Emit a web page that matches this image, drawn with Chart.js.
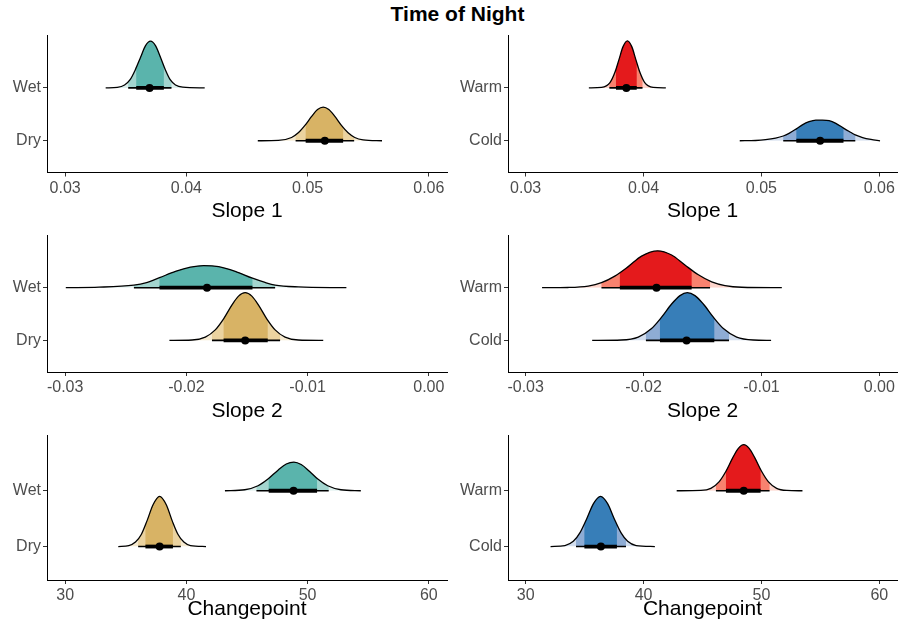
<!DOCTYPE html>
<html>
<head>
<meta charset="utf-8">
<script src="https://cdn.jsdelivr.net/npm/chart.js@4.4.1/dist/chart.umd.min.js"></script>
<style>
  body { margin: 0; background: #fff; width: 909px; height: 625px; position: relative; overflow: hidden;
         font-family: "Liberation Sans", Arial, sans-serif; }
  #title { position: absolute; left: 3px; width: 909px; top: 2px; text-align: center;
           font-weight: bold; font-size: 21px; line-height: 24px; color: #000; }
  canvas { position: absolute; }
</style>
</head>
<body>
<div id="title">Time of Night</div>
<canvas id="c1"></canvas>
<canvas id="c2"></canvas>
<canvas id="c3"></canvas>
<canvas id="c4"></canvas>
<canvas id="c5"></canvas>
<canvas id="c6"></canvas>
<script>
// ---------------- data ----------------
// categories
var seasonCats = ['Dry', 'Wet'];
var tempCats = ['Cold', 'Warm'];

// x axis ticks
var slope1Ticks = [0.03, 0.04, 0.05, 0.06];
var slope1Labels = ['0.03', '0.04', '0.05', '0.06'];
var slope2Ticks = [-0.03, -0.02, -0.01, 0];
var slope2Labels = ['-0.03', '-0.02', '-0.01', '0.00'];
var cpTicks = [30, 40, 50, 60];
var cpLabels = ['30', '40', '50', '60'];

// density curves: x positions and slab heights; intervals = [lo95, lo80, median, hi80, hi95]
var s1WetX = [0.03334, 0.0343, 0.0349, 0.03534, 0.03578, 0.03622, 0.03663, 0.03704, 0.03745, 0.03786, 0.03827, 0.03868, 0.0391, 0.0397, 0.04151];
var s1WetH = [0, 0.01, 0.054, 0.15, 0.34, 0.58, 0.80, 0.883, 0.80, 0.58, 0.34, 0.15, 0.054, 0.013, 0];
var s1WetInt = [0.0352, 0.03586, 0.03696, 0.03814, 0.03877];
var s1DryX = [0.04589, 0.04759, 0.04868, 0.04923, 0.04978, 0.05033, 0.05082, 0.05129, 0.05175, 0.05225, 0.05279, 0.05334, 0.05389, 0.05458, 0.05614];
var s1DryH = [0, 0.006, 0.062, 0.15, 0.29, 0.46, 0.59, 0.636, 0.59, 0.46, 0.29, 0.15, 0.062, 0.017, 0];
var s1DryInt = [0.04901, 0.04984, 0.05142, 0.05293, 0.05384];

var s1WarmX = [0.03536, 0.03644, 0.03715, 0.03758, 0.03792, 0.03826, 0.03863, 0.039, 0.03934, 0.03968, 0.0401, 0.04081, 0.04189];
var s1WarmH = [0, 0.01, 0.10, 0.30, 0.54, 0.78, 0.89, 0.78, 0.54, 0.30, 0.10, 0.01, 0];
var s1WarmInt = [0.0371, 0.03766, 0.03854, 0.03942, 0.03991];
var s1ColdX = [0.04816, 0.0495, 0.05035, 0.0512, 0.05185, 0.05234, 0.05296, 0.05347, 0.05404, 0.05461, 0.05518, 0.05574, 0.05631, 0.05696, 0.05745, 0.05796, 0.05858, 0.05929, 0.06006];
var s1ColdH = [0, 0.005, 0.02, 0.05, 0.09, 0.14, 0.225, 0.30, 0.36, 0.39, 0.39, 0.38, 0.33, 0.24, 0.175, 0.11, 0.06, 0.025, 0];
var s1ColdInt = [0.05185, 0.05296, 0.05498, 0.05696, 0.05796];

var s2WetX = [-0.02995, -0.02721, -0.02433, -0.02337, -0.02222, -0.0209, -0.01967, -0.01858, -0.01734, -0.01597, -0.01455, -0.01351, -0.01268, -0.01077, -0.0068];
var s2WetH = [0, 0.01, 0.05, 0.09, 0.19, 0.31, 0.39, 0.42, 0.40, 0.31, 0.18, 0.10, 0.05, 0.015, 0];
var s2WetInt = [-0.02433, -0.02222, -0.0183, -0.01455, -0.01268];
var s2DryX = [-0.0214, -0.01953, -0.01844, -0.01762, -0.01693, -0.01625, -0.0157, -0.01515, -0.0146, -0.01405, -0.01337, -0.01268, -0.01186, -0.01077, -0.00871];
var s2DryH = [0, 0.007, 0.063, 0.2, 0.41, 0.67, 0.84, 0.905, 0.84, 0.67, 0.41, 0.2, 0.063, 0.007, 0];
var s2DryInt = [-0.01789, -0.01693, -0.01515, -0.01329, -0.01227];

var s2WarmX = [-0.02861, -0.0264, -0.0247, -0.02357, -0.02244, -0.0213, -0.02017, -0.01881, -0.01762, -0.01649, -0.01535, -0.01422, -0.01309, -0.01167, -0.00827];
var s2WarmH = [0, 0.004, 0.03, 0.095, 0.22, 0.40, 0.60, 0.70, 0.62, 0.43, 0.245, 0.11, 0.04, 0.008, 0];
var s2WarmInt = [-0.02357, -0.02201, -0.0189, -0.01592, -0.01436];
var s2ColdX = [-0.02436, -0.02187, -0.02045, -0.01932, -0.01847, -0.01762, -0.01691, -0.01629, -0.01564, -0.01493, -0.01408, -0.01323, -0.0121, -0.01068, -0.00918];
var s2ColdH = [0, 0.007, 0.063, 0.225, 0.44, 0.69, 0.85, 0.905, 0.85, 0.69, 0.44, 0.225, 0.063, 0.007, 0];
var s2ColdInt = [-0.0198, -0.01861, -0.01635, -0.014, -0.01275];

var cpWetX = [43.18, 44.82, 45.91, 46.73, 47.56, 48.24, 48.87, 49.47, 50.15, 50.84, 51.66, 52.75, 54.39];
var cpWetH = [0, 0.018, 0.09, 0.21, 0.37, 0.48, 0.515, 0.47, 0.35, 0.21, 0.09, 0.018, 0];
var cpWetInt = [45.78, 46.79, 48.84, 50.78, 51.74];
var cpDryX = [34.38, 35.25, 35.80, 36.29, 36.75, 37.25, 37.79, 38.34, 38.83, 39.30, 39.79, 40.34, 41.62];
var cpDryH = [0, 0.017, 0.08, 0.22, 0.46, 0.75, 0.9, 0.75, 0.46, 0.22, 0.08, 0.017, 0];
var cpDryInt = [36.02, 36.62, 37.79, 38.89, 39.54];

var cpWarmX = [42.81, 44.86, 45.71, 46.42, 46.99, 47.56, 48.04, 48.50, 48.96, 49.44, 50.01, 50.58, 51.29, 52.15, 53.48];
var cpWarmH = [0, 0.006, 0.044, 0.165, 0.35, 0.59, 0.76, 0.826, 0.76, 0.59, 0.35, 0.165, 0.044, 0.006, 0];
var cpWarmInt = [46.14, 46.99, 48.50, 49.93, 50.69];
var cpColdX = [32.11, 33.33, 34.04, 34.61, 35.18, 35.75, 36.35, 36.95, 37.51, 38.08, 38.65, 39.37, 40.96];
var cpColdH = [0, 0.018, 0.093, 0.25, 0.50, 0.77, 0.9, 0.77, 0.50, 0.25, 0.093, 0.018, 0];
var cpColdInt = [34.27, 34.98, 36.38, 37.74, 38.51];

// fill colours: [outside 95%, 95%, 80%]
var wetCols = ['#ddefed', '#a3d5cf', '#5ab4ac'];
var dryCols = ['#f6ead0', '#ebd3a0', '#d8b365'];
var warmCols = ['#fdd5cc', '#f8826f', '#e41a1c'];
var coldCols = ['#d3deee', '#8eacd4', '#377eb8'];

// ---------------- shading of the slabs by interval ----------------
var shadePlugin = {
    id: 'shade',
    beforeDatasetsDraw: function (chart) {
        var ctx = chart.ctx, area = chart.chartArea;
        var xs = chart.scales.x, ys = chart.scales.y;
        chart.data.datasets.forEach(function (ds, i) {
            if (!ds.shade) return;
            var line = chart.getDatasetMeta(i).dataset;
            line.updateControlPoints(area, 'x');
            var pts = line.points;
            var yb = ys.getPixelForValue(ds.shade.base);
            var it = ds.shade.interval;
            var bands = [
                [pts[0].x, pts[pts.length - 1].x, ds.shade.colors[0]],
                [xs.getPixelForValue(it[0]), xs.getPixelForValue(it[4]), ds.shade.colors[1]],
                [xs.getPixelForValue(it[1]), xs.getPixelForValue(it[3]), ds.shade.colors[2]]
            ];
            bands.forEach(function (b) {
                ctx.save();
                ctx.beginPath();
                ctx.rect(b[0], area.top, b[1] - b[0], yb - area.top);
                ctx.clip();
                ctx.beginPath();
                line.path(ctx);
                ctx.lineTo(pts[pts.length - 1].x, yb);
                ctx.lineTo(pts[0].x, yb);
                ctx.closePath();
                ctx.fillStyle = b[2];
                ctx.fill();
                ctx.restore();
            });
        });
    }
};

// ---------------- layout ----------------
var cols = [
    { left: 0, width: 455, yW: 47, padR: 8 },
    { left: 455, width: 454, yW: 53, padR: 12 }
];
var rows = [
    { top: 30, height: 194, padT: 5, xH: 51.5 },
    { top: 228, height: 196, padT: 7, xH: 52 },
    { top: 428, height: 194, padT: 7, xH: 42 }
];

function makePanel(id, row, col, cats, curves, xmin, xmax, ticks, labels, title) {
    var cv = document.getElementById(id);
    cv.width = col.width; cv.height = row.height;
    cv.style.left = col.left + 'px'; cv.style.top = row.top + 'px';

    var datasets = [];
    curves.forEach(function (c) {
        datasets.push({
            data: c.x.map(function (x, k) { return { x: x, y: c.base + c.h[k] }; }),
            borderColor: '#000', borderWidth: 1.3, pointRadius: 0, fill: false,
            cubicInterpolationMode: 'monotone', order: 3,
            shade: { base: c.base, interval: c.int, colors: c.colors }
        });
        datasets.push({
            data: [{ x: c.int[0], y: c.base }, { x: c.int[4], y: c.base }],
            borderColor: '#000', borderWidth: 1.6, pointRadius: 0, fill: false, order: 2
        });
        datasets.push({
            data: [{ x: c.int[1], y: c.base }, { x: c.int[3], y: c.base }],
            borderColor: '#000', borderWidth: 3.8, pointRadius: 0, fill: false, order: 1
        });
        datasets.push({
            data: [{ x: c.int[2], y: c.base }],
            showLine: false, pointRadius: 4, pointBackgroundColor: '#000', pointBorderWidth: 0, order: 0
        });
    });

    var tickFont = { family: '"Liberation Sans", Arial, sans-serif', size: 16 };
    return new Chart(cv, {
        type: 'line',
        data: { datasets: datasets },
        options: {
            responsive: false,
            animation: false,
            layout: { padding: { left: 0, right: col.padR, top: row.padT, bottom: 0 } },
            plugins: { legend: { display: false }, tooltip: { enabled: false } },
            scales: {
                x: {
                    type: 'linear', min: xmin, max: xmax,
                    afterBuildTicks: function (s) { s.ticks = ticks.map(function (v) { return { value: v }; }); },
                    afterFit: function (s) {
                        s.height = row.xH;
                        s.paddingLeft = 0; s.paddingRight = 0;
                    },
                    ticks: {
                        autoSkip: false, maxRotation: 0, padding: 2, color: '#4d4d4d', font: tickFont,
                        callback: function (v, i) { return labels[i]; }
                    },
                    grid: { drawOnChartArea: false, drawTicks: true, tickLength: 4, tickColor: '#333', tickWidth: 1 },
                    border: { display: true, color: '#000', width: 1 },
                    title: {
                        display: true, text: title, color: '#000', padding: 0,
                        font: { family: '"Liberation Sans", Arial, sans-serif', size: 21 }
                    }
                },
                y: {
                    type: 'linear', min: 0.4, max: 3.0,
                    afterBuildTicks: function (s) { s.ticks = [{ value: 1 }, { value: 2 }]; },
                    afterFit: function (s) {
                        s.width = col.yW;
                        s.paddingTop = 0; s.paddingBottom = 0;
                    },
                    ticks: {
                        padding: 2, color: '#4d4d4d', font: tickFont,
                        callback: function (v) { return cats[Math.round(v) - 1]; }
                    },
                    grid: { drawOnChartArea: false, drawTicks: true, tickLength: 4, tickColor: '#333', tickWidth: 1 },
                    border: { display: true, color: '#000', width: 1 }
                }
            }
        },
        plugins: [shadePlugin]
    });
}

makePanel('c1', rows[0], cols[0], seasonCats, [
    { x: s1DryX, h: s1DryH, int: s1DryInt, base: 1, colors: dryCols },
    { x: s1WetX, h: s1WetH, int: s1WetInt, base: 2, colors: wetCols }
], 0.0285, 0.0615, slope1Ticks, slope1Labels, 'Slope 1');

makePanel('c2', rows[0], cols[1], tempCats, [
    { x: s1ColdX, h: s1ColdH, int: s1ColdInt, base: 1, colors: coldCols },
    { x: s1WarmX, h: s1WarmH, int: s1WarmInt, base: 2, colors: warmCols }
], 0.0285, 0.0615, slope1Ticks, slope1Labels, 'Slope 1');

makePanel('c3', rows[1], cols[0], seasonCats, [
    { x: s2DryX, h: s2DryH, int: s2DryInt, base: 1, colors: dryCols },
    { x: s2WetX, h: s2WetH, int: s2WetInt, base: 2, colors: wetCols }
], -0.0315, 0.0015, slope2Ticks, slope2Labels, 'Slope 2');

makePanel('c4', rows[1], cols[1], tempCats, [
    { x: s2ColdX, h: s2ColdH, int: s2ColdInt, base: 1, colors: coldCols },
    { x: s2WarmX, h: s2WarmH, int: s2WarmInt, base: 2, colors: warmCols }
], -0.0315, 0.0015, slope2Ticks, slope2Labels, 'Slope 2');

makePanel('c5', rows[2], cols[0], seasonCats, [
    { x: cpDryX, h: cpDryH, int: cpDryInt, base: 1, colors: dryCols },
    { x: cpWetX, h: cpWetH, int: cpWetInt, base: 2, colors: wetCols }
], 28.5, 61.5, cpTicks, cpLabels, 'Changepoint');

makePanel('c6', rows[2], cols[1], tempCats, [
    { x: cpColdX, h: cpColdH, int: cpColdInt, base: 1, colors: coldCols },
    { x: cpWarmX, h: cpWarmH, int: cpWarmInt, base: 2, colors: warmCols }
], 28.5, 61.5, cpTicks, cpLabels, 'Changepoint');
</script>
</body>
</html>
